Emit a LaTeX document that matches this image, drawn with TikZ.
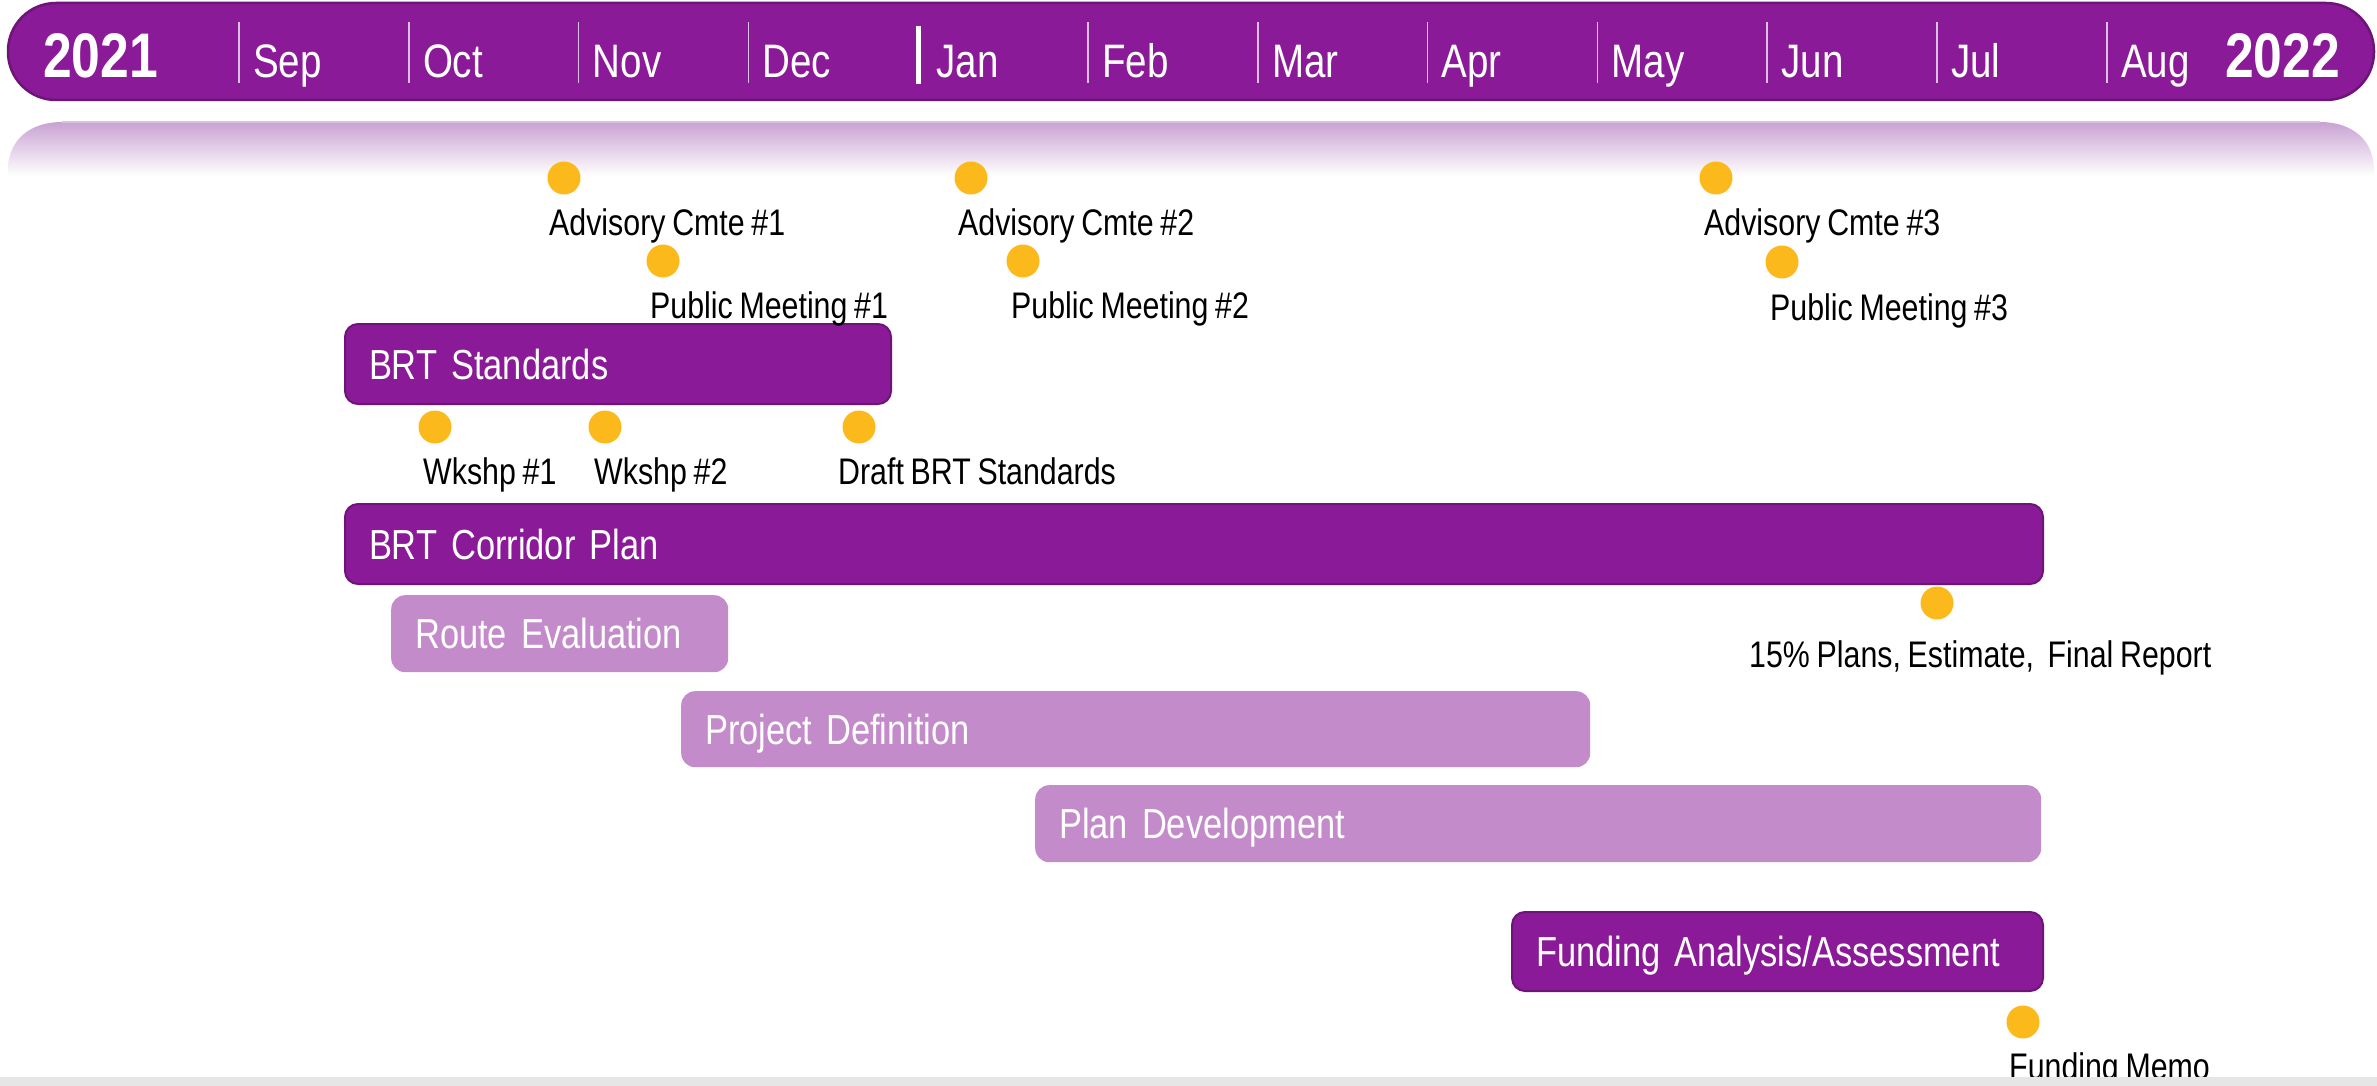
\documentclass[tikz,border=0pt]{standalone}
\usepackage{fontspec}
\setmainfont{Liberation Sans}[FakeStretch=0.82,WordSpace=0.8]
\definecolor{barpurple}{HTML}{8B1A98}
\definecolor{baredge}{HTML}{6C1478}
\definecolor{lightbar}{HTML}{C48BCB}
\definecolor{dotyellow}{HTML}{FBB91C}
\definecolor{bandtop}{HTML}{C9A2D3}
\definecolor{bandedge}{HTML}{D3C6D6}
\definecolor{tickline}{HTML}{DCC0E1}
\definecolor{footgray}{HTML}{E6E6E6}
\begin{document}
\begin{tikzpicture}[x=1pt,y=-1pt,
  yearlabel/.style={anchor=base west,inner sep=0pt,text=white,font=\fontsize{63}{70}\selectfont\bfseries},
  monthlabel/.style={anchor=base west,inner sep=0pt,text=white,font=\fontsize{47}{54}\selectfont},
  monthtick/.style={draw=tickline,line width=1.6pt},
  bar/.style={anchor=north west,rectangle,inner xsep=24pt,inner ysep=0pt,
    text height=30pt,text depth=0pt,align=left,text=white,
    font=\fontsize{42}{48}\selectfont},
  darkbar/.style={bar,fill=barpurple,draw=baredge,line width=2pt,rounded corners=13pt},
  lightbar/.style={bar,fill=lightbar,draw=none,rounded corners=14pt},
  milestone/.style={circle,fill=dotyellow,draw=none,minimum size=33pt,inner sep=0pt},
  mlabel/.style={anchor=base west,inner sep=0pt,text=black,font=\fontsize{37}{42}\selectfont}]

% canvas
\useasboundingbox (0,0) rectangle (2377,1086);
\fill[white] (0,0) rectangle (2377,1086);

% faded reflection under the header
\shade[top color=bandtop,bottom color=white]
  (8,176) -- (8,170) .. controls (8,140) and (30,122) .. (62,122)
  -- (2320,122) .. controls (2352,122) and (2374,140) .. (2374,170)
  -- (2374,176) -- cycle;
\draw[bandedge,line width=1.5pt] (62,122) -- (2320,122);

% header bar
\fill[barpurple,draw=baredge,line width=2.5pt,rounded corners=48pt] (8,3) rectangle (2374,100);
\node[yearlabel] (y2021) at (43,78) {2021};
\node[yearlabel] (y2022) at (2225,78) {2022};
\foreach \m [count=\i from 0] in {Sep,Oct,Nov,Dec,Jan,Feb,Mar,Apr,May,Jun,Jul,Aug}{
  \pgfmathsetmacro\xx{239+169.8*\i}
  \ifnum\i=4
    \draw[white,line width=5pt] (\xx,26) -- (\xx,84);
    \node[monthlabel] (mon-\m) at ({\xx+18},78) {\m};
  \else
    \draw[monthtick] (\xx,22) -- (\xx,83);
    \node[monthlabel] (mon-\m) at ({\xx+14},78) {\m};
  \fi
}

% task bars
\node[darkbar,minimum width=546pt,minimum height=80pt,text width=498pt] (std) at (344,323) {BRT Standards};
\node[darkbar,minimum width=1698pt,minimum height=80pt,text width=1650pt] (corr) at (344,503) {BRT Corridor Plan};
\node[lightbar,minimum width=337pt,minimum height=77pt,text width=289pt] (route) at (391,595) {Route Evaluation};
\node[lightbar,minimum width=909pt,minimum height=76pt,text width=861pt] (pdef) at (681,691) {Project Definition};
\node[lightbar,minimum width=1006pt,minimum height=77pt,text width=958pt] (pdev) at (1035,785) {Plan Development};
\node[darkbar,minimum width=531pt,minimum height=79pt,text width=483pt] (fund) at (1511,911) {Funding Analysis/Assessment};

% milestones
\node[milestone] (d-adv1) at (564,178) {};
\node[mlabel] (l-adv1) at (549,236) {Advisory Cmte \#1};
\node[milestone] (d-pub1) at (663,261) {};
\node[mlabel] (l-pub1) at (650,318) {Public Meeting \#1};
\node[milestone] (d-adv2) at (971,178) {};
\node[mlabel] (l-adv2) at (958,236) {Advisory Cmte \#2};
\node[milestone] (d-pub2) at (1023,261) {};
\node[mlabel] (l-pub2) at (1011,318) {Public Meeting \#2};
\node[milestone] (d-adv3) at (1716,178) {};
\node[mlabel] (l-adv3) at (1704,236) {Advisory Cmte \#3};
\node[milestone] (d-pub3) at (1782,262) {};
\node[mlabel] (l-pub3) at (1770,320) {Public Meeting \#3};
\node[milestone] (d-ws1) at (435,427) {};
\node[mlabel] (l-ws1) at (423,484) {Wkshp \#1};
\node[milestone] (d-ws2) at (605,427) {};
\node[mlabel] (l-ws2) at (594,484) {Wkshp \#2};
\node[milestone] (d-draft) at (859,427) {};
\node[mlabel] (l-draft) at (838,484) {Draft BRT Standards};
\node[milestone] (d-final) at (1937,603) {};
\node[mlabel] (l-final) at (1749,667) {15\% Plans, Estimate,\ \ Final Report};
\node[milestone] (d-memo) at (2023,1022) {};
\node[mlabel] (l-memo) at (2009,1079) {Funding Memo};

% footer strip
\fill[footgray] (0,1077) rectangle (2377,1086);
\end{tikzpicture}
\end{document}
